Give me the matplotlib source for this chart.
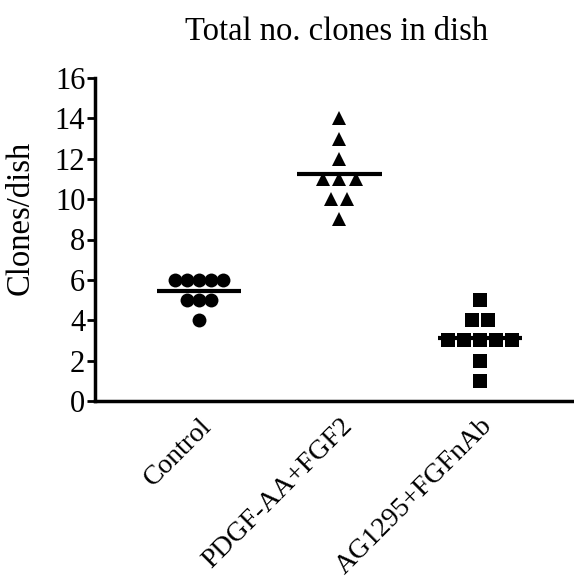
import matplotlib.pyplot as plt
import matplotlib.transforms as mtransforms
import numpy as np

groups = ["Control", "PDGF-AA+FGF2", "AG1295+FGFnAb"]
control = [6, 6, 6, 6, 6, 5, 5, 5, 4]
pdgf = [14, 13, 12, 11, 11, 11, 10, 10, 9]
ag = [5, 4, 4, 3, 3, 3, 3, 3, 2, 1]
markers = ["o", "^", "s"]


def swarm_offsets(values, step):
    # spread tied values side by side, centred on the column
    values = np.asarray(values, dtype=float)
    offs = np.zeros(len(values))
    for v in np.unique(values):
        idx = np.where(values == v)[0]
        n = len(idx)
        offs[idx] = (np.arange(n) - (n - 1) / 2) * step
    return offs


fig = plt.figure(figsize=(5.74, 5.87), dpi=100)
ax = fig.add_axes([95 / 574, 1 - 401 / 587, (574 - 95) / 574, (401 - 78) / 587])

steps = [0.085, 0.115, 0.115]
sizes = [10, 10.5, 9.5]
for i, (vals, m) in enumerate(zip([control, pdgf, ag], markers)):
    x = i + 1 + swarm_offsets(vals, steps[i])
    ax.plot(x, vals, linestyle="none", marker=m, color="black",
            markersize=sizes[i], markeredgewidth=0)
    mean = np.mean(vals)
    ax.plot([i + 1 - 0.3, i + 1 + 0.3], [mean, mean], color="black", lw=3,
            solid_capstyle="butt")

ax.set_xlim(0.26, 3.67)
ax.set_ylim(0, 16)
ax.set_yticks(np.arange(0, 17, 2))
ax.set_xticks([1, 2, 3])
ax.set_xticklabels(groups, rotation=45, ha="right", rotation_mode="anchor",
                   family="Liberation Serif", fontsize=20)
shift = mtransforms.ScaledTranslation(-8 / 100, 0, fig.dpi_scale_trans)
for lab in ax.get_xticklabels():
    lab.set_transform(lab.get_transform() + shift)
for lab in ax.get_yticklabels():
    lab.set_family("Liberation Serif")
    lab.set_fontsize(22)
ax.tick_params(axis="x", length=0, pad=9)
ax.tick_params(axis="y", length=6, width=2, pad=1)

for s in ["top", "right"]:
    ax.spines[s].set_visible(False)
for s in ["left", "bottom"]:
    ax.spines[s].set_linewidth(2.5)

fig.text(20 / 574, 1 - 218 / 587, "Clones/dish", family="Liberation Serif",
         fontsize=23.5, rotation=90, ha="center", va="center")
fig.text(337 / 574, 1 - 32 / 587, "Total no. clones in dish",
         family="Liberation Serif", fontsize=23.5, ha="center", va="center")

fig.savefig("out.png", dpi=100)
